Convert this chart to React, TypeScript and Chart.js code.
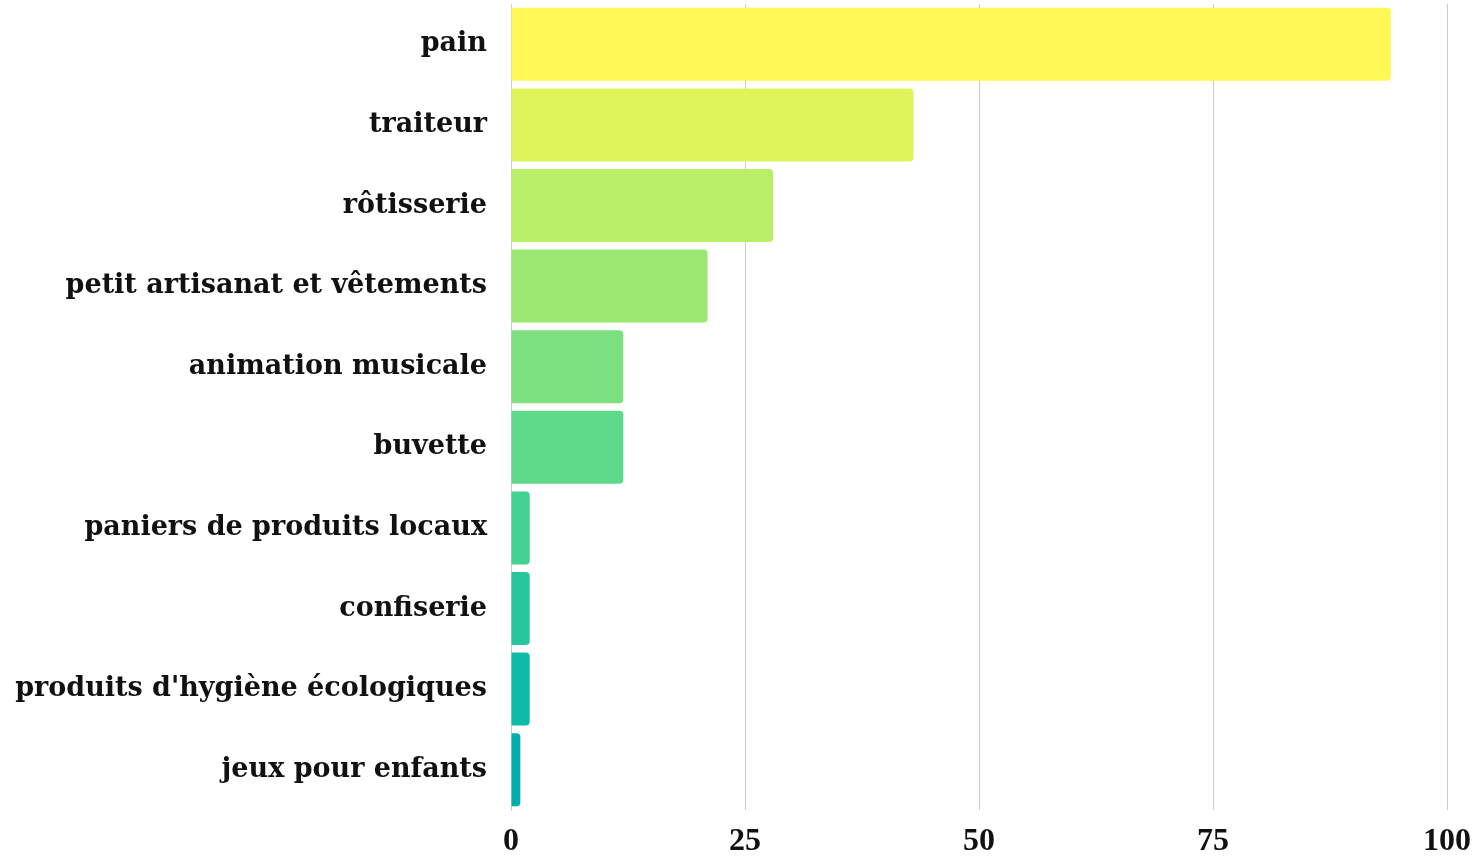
import React, { useEffect, useRef } from "react";
import { Chart, registerables } from "chart.js";

Chart.register(...registerables);

const categories = [
  "pain",
  "traiteur",
  "rôtisserie",
  "petit artisanat et vêtements",
  "animation musicale",
  "buvette",
  "paniers de produits locaux",
  "confiserie",
  "produits d'hygiène écologiques",
  "jeux pour enfants",
];

const values = [94, 43, 28, 21, 12, 12, 2, 2, 2, 1];

const barColors = [
  "#FFF755",
  "#DDF55A",
  "#B9EF66",
  "#9AE870",
  "#7BE07D",
  "#5CD989",
  "#42D093",
  "#27C79E",
  "#0CBBA8",
  "#00AFAB",
];

const tickValues = [0, 25, 50, 75, 100];

const LABEL_FONT = "'DejaVu Serif', serif";
const TICK_FONT = "'Liberation Serif', serif";

export default function App() {
  const ref = useRef<HTMLCanvasElement | null>(null);

  useEffect(() => {
    if (!ref.current) return;
    const chart = new Chart(ref.current, {
      type: "bar",
      data: {
        labels: categories,
        datasets: [
          {
            data: values,
            backgroundColor: barColors,
            borderRadius: 4,
            barPercentage: 0.906,
            categoryPercentage: 1,
          },
        ],
      },
      options: {
        indexAxis: "y",
        animation: false,
        responsive: true,
        maintainAspectRatio: false,
        layout: { padding: { top: 4, right: 35, left: 0, bottom: 0 } },
        plugins: {
          legend: { display: false },
          tooltip: { enabled: false },
        },
        scales: {
          x: {
            min: 0,
            max: 100,
            afterBuildTicks: (axis: any) => {
              axis.ticks = tickValues.map((v) => ({ value: v }));
            },
            afterFit: (s: any) => {
              s.height = 47;
              s.paddingLeft = 0;
              s.paddingRight = 0;
            },
            grid: { color: "#cccccc", drawTicks: false, lineWidth: 1 },
            border: { display: false },
            ticks: {
              color: "#111111",
              padding: 13,
              font: { family: TICK_FONT, size: 32, weight: "bold" },
            },
          },
          y: {
            afterFit: (s: any) => {
              s.width = 511;
              s.paddingTop = 0;
              s.paddingBottom = 0;
            },
            grid: { display: false },
            border: { display: true, color: "#cccccc" },
            ticks: {
              color: "#111111",
              padding: 16,
              font: { family: LABEL_FONT, size: 27, weight: "bold" },
            },
          },
        },
      },
    });
    return () => chart.destroy();
  }, []);

  return (
    <div style={{ position: "fixed", left: 0, top: 0, width: 1482, height: 857 }}>
      <canvas ref={ref} />
    </div>
  );
}
